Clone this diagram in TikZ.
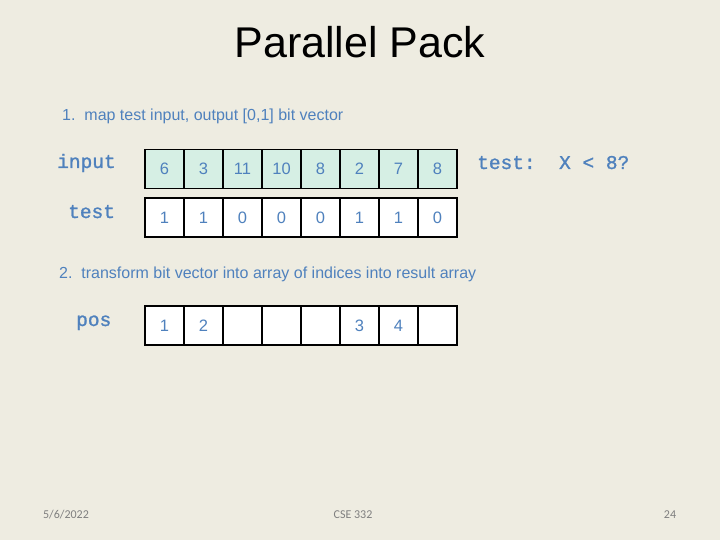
\documentclass[tikz,border=0pt]{standalone}
\usepackage{fontspec}
\setmainfont{Liberation Sans}
\newfontfamily\monof[FakeBold=1.2]{Liberation Mono}
\newfontfamily\footf{Carlito}
\definecolor{bgc}{HTML}{EEECE1}
\definecolor{cellg}{HTML}{D6EFE4}
\definecolor{txtb}{HTML}{4F81BD}
\definecolor{footg}{HTML}{7F7F7F}
\tikzset{
  cellbox/.style={draw=black, line width=1.6pt, minimum width=39pt, minimum height=39pt, inner sep=0pt, font=\fontsize{16.5}{16.5}\selectfont, text=txtb},
  incell/.style={cellbox, fill=cellg},
  wcell/.style={cellbox, fill=white},
  lbl/.style={font=\monof\fontsize{19.5}{19.5}\selectfont, text=txtb, inner sep=0pt, anchor=base west},
  stepline/.style={font=\fontsize{16}{16}\selectfont, text=txtb, inner sep=0pt, anchor=base west},
  foot/.style={font=\footf\fontsize{12}{12}\selectfont, text=footg, inner sep=0pt, anchor=base}
}
\begin{document}
\begin{tikzpicture}[x=1pt,y=-1pt]
\fill[bgc] (0,0) rectangle (720,540);
\useasboundingbox (0,0) rectangle (720,540);
\node[font=\fontsize{43}{43}\selectfont, inner sep=0pt, anchor=base] (title) at (360,58) {Parallel Pack};
\node[stepline] (s1) at (62,121) {1.\ \ map test input, output [0,1] bit vector};
\node[lbl] (linput) at (57,168) {input};
\node[lbl] (ltest) at (68,218) {test};
\node[lbl] (lcond) at (477,169) {test:\ \ X < 8?};
\foreach \v [count=\i] in {6,3,11,10,8,2,7,8}
  \node[incell] (in\i) at ({145+39*(\i-0.5)},169) {\v};
\foreach \v [count=\i] in {1,1,0,0,0,1,1,0}
  \node[wcell] (te\i) at ({145+39*(\i-0.5)},217.5) {\v};
\node[stepline] (s2) at (59,278) {2.\ \ transform bit vector into array of indices into result array};
\node[lbl] (lpos) at (76,326) {pos};
\foreach \v [count=\i] in {1,2,{},{},{},3,4,{}}
  \node[wcell] (po\i) at ({145+39*(\i-0.5)},325.5) {\v};
\node[foot] (fdate) at (66,518) {5/6/2022};
\node[foot] (fcse) at (353,518) {CSE 332};
\node[foot] (fnum) at (670,518) {24};
\end{tikzpicture}
\end{document}
